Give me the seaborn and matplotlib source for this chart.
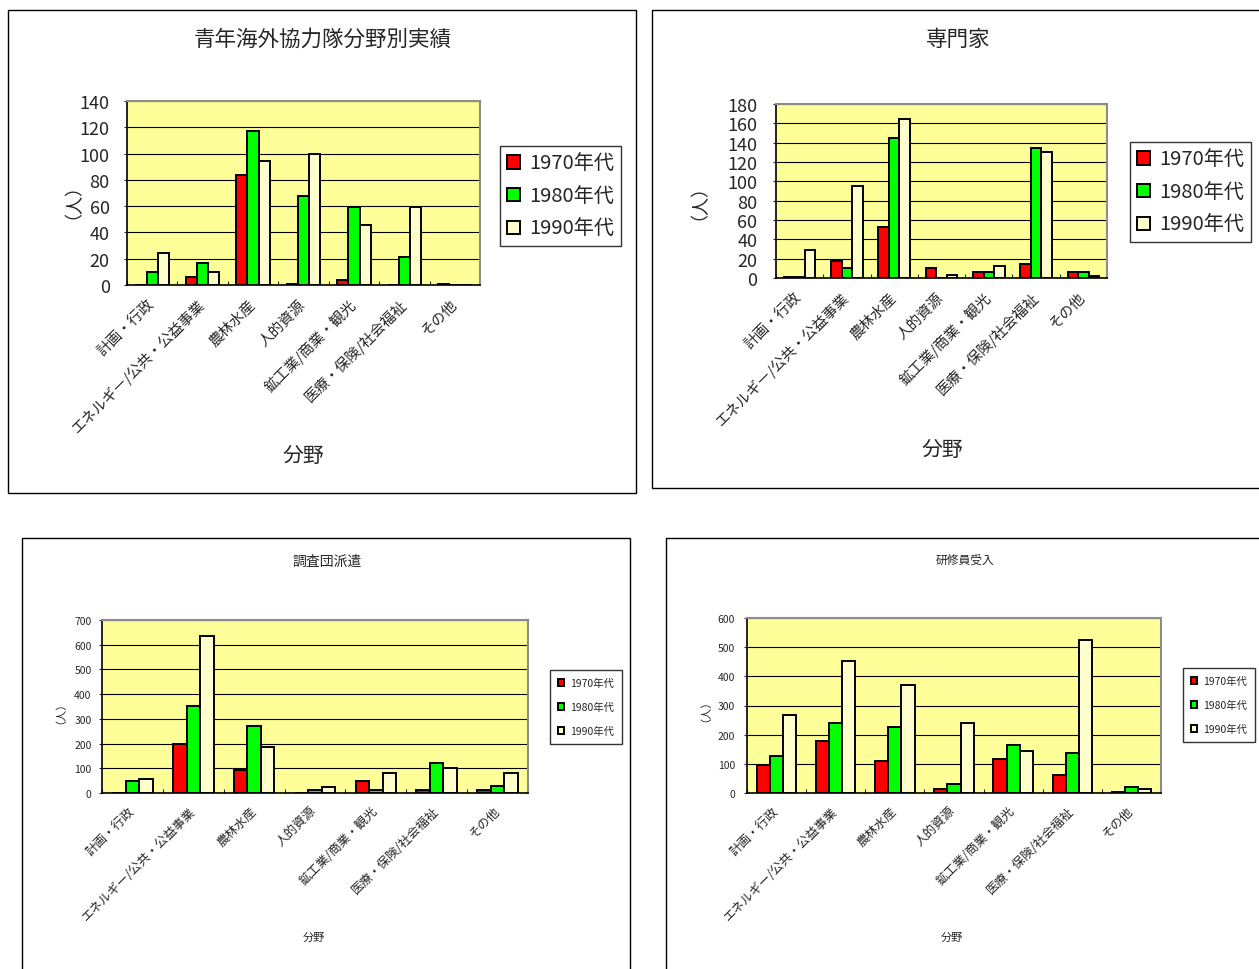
import matplotlib
matplotlib.use("Agg")
import matplotlib.pyplot as plt
from matplotlib.patches import Rectangle, Patch
import numpy as np
import pandas as pd
import seaborn as sns

# ---- data -------------------------------------------------------------
categories = ['計画・行政', 'エネルギー/公共・公益事業', '農林水産', '人的資源',
              '鉱工業/商業・観光', '医療・保険/社会福祉', 'その他']
decades = ['1970年代', '1980年代', '1990年代']

# 青年海外協力隊分野別実績
jocv_1970 = [0, 6, 84, 1, 4, 0, 1]
jocv_1980 = [10, 17, 117, 68, 59, 21, 0]
jocv_1990 = [24, 10, 94, 100, 46, 59, 0]

# 専門家
expert_1970 = [1, 18, 53, 10, 6, 14, 6]
expert_1980 = [1, 10, 145, 0, 6, 134, 6]
expert_1990 = [29, 95, 164, 3, 12, 130, 2]

# 調査団派遣
survey_1970 = [0, 200, 95, 0, 47, 13, 13]
survey_1980 = [47, 353, 273, 13, 13, 120, 30]
survey_1990 = [55, 635, 185, 23, 81, 102, 81]

# 研修員受入
trainee_1970 = [95, 179, 109, 14, 116, 62, 5]
trainee_1980 = [128, 239, 226, 32, 164, 137, 20]
trainee_1990 = [266, 451, 370, 239, 144, 525, 13]

panel_titles = ['青年海外協力隊分野別実績', '専門家', '調査団派遣', '研修員受入']
y_ticks = [np.arange(0, 141, 20), np.arange(0, 181, 20),
           np.arange(0, 701, 100), np.arange(0, 601, 100)]

bar_colors = ['#FF0000', '#00FF00', '#FFFFCC']
plot_bg = '#FFFF99'

# ---- style ------------------------------------------------------------
sns.set_style('ticks')
plt.rcParams['font.family'] = ['Noto Sans CJK JP', 'DejaVu Sans']
plt.rcParams['axes.unicode_minus'] = False

W, H = 1259, 970
fig = plt.figure(figsize=(W / 100, H / 100), dpi=100)
fig.patch.set_facecolor('white')


def fx(x):
    return x / W


def fy(y):
    return 1 - y / H


def long_frame(a, b, c):
    rows = []
    for dec, vals in zip(decades, (a, b, c)):
        for cat, v in zip(categories, vals):
            rows.append({'分野': cat, '年代': dec, '人数': v})
    return pd.DataFrame(rows)


panels = [
    dict(data=long_frame(jocv_1970, jocv_1980, jocv_1990),
         frame=(8, 11, 636, 494), ax=(127, 102, 480, 286),
         title=(323, 40, 15.5), xlab=(303, 456, 15), ylab=(64, 192, 13),
         ytick=(13, 10), xtick=10.5, legend=(500, 147, 626, 242, 14.5)),
    dict(data=long_frame(expert_1970, expert_1980, expert_1990),
         frame=(652, 11, 1270, 489), ax=(776, 105, 1107, 279),
         title=(958, 40, 15.5), xlab=(942, 450, 15), ylab=(690, 193, 13),
         ytick=(13, 11), xtick=10.5, legend=(1130, 143, 1257, 239, 14.5)),
    dict(data=long_frame(survey_1970, survey_1980, survey_1990),
         frame=(22, 539, 630, 985), ax=(102, 621, 528, 794),
         title=(327, 562, 10), xlab=(314, 938, 8), ylab=(55, 707, 8),
         ytick=(7.5, 5), xtick=9, legend=(550, 671, 622, 742, 7.5)),
    dict(data=long_frame(trainee_1970, trainee_1980, trainee_1990),
         frame=(666, 539, 1270, 985), ax=(747, 619, 1161, 794),
         title=(965, 561, 8.5), xlab=(952, 938, 8), ylab=(700, 705, 8),
         ytick=(7.5, 6), xtick=9, legend=(1183, 669, 1255, 743, 7.5)),
]

for i, p in enumerate(panels):
    # chart-area border
    x0, y0, x1, y1 = p['frame']
    fig.add_artist(Rectangle((fx(x0), fy(y1)), fx(x1 - x0), (y1 - y0) / H,
                             transform=fig.transFigure, fill=False,
                             edgecolor='black', linewidth=1.0, zorder=0))

    ax0, ay0, ax1, ay1 = p['ax']
    ax = fig.add_axes([fx(ax0), fy(ay1), fx(ax1 - ax0), (ay1 - ay0) / H])
    ax.set_facecolor(plot_bg)

    sns.barplot(data=p['data'], x='分野', y='人数', hue='年代',
                hue_order=decades, order=categories, palette=bar_colors,
                width=2 / 3, edgecolor='black', linewidth=1.4,
                saturation=1, legend=False, ax=ax, zorder=3)

    ticks = y_ticks[i]
    ax.set_ylim(0, ticks[-1])
    ax.set_xlim(-0.5, len(categories) - 0.5)
    ax.set_yticks(ticks)
    ax.yaxis.grid(True, color='black', linewidth=0.8, zorder=1)
    ax.set_axisbelow(True)

    for s in ('left', 'bottom'):
        ax.spines[s].set_color('black')
        ax.spines[s].set_linewidth(1.2)
    for s in ('top', 'right'):
        ax.spines[s].set_color('#8c8c8c')
        ax.spines[s].set_linewidth(1.5)
        ax.spines[s].set_visible(True)

    yfs, ypad = p['ytick']
    ax.tick_params(axis='y', labelsize=yfs, pad=ypad, length=2.5,
                   width=0.8, direction='out')
    ax.set_xticks(range(len(categories)))
    ax.set_xticklabels(categories, rotation=45, ha='right', va='center',
                       rotation_mode='anchor', fontsize=p['xtick'])
    ax.tick_params(axis='x', length=0, pad=12 if i < 2 else 11)
    ax.set_xticks(np.arange(-0.5, len(categories)), minor=True)
    ax.tick_params(axis='x', which='minor', length=3, direction='in',
                   width=0.8)
    ax.set_xlabel('')
    ax.set_ylabel('')

    tx, ty, tfs = p['title']
    fig.text(fx(tx), fy(ty), panel_titles[i], ha='center', va='center',
             fontsize=tfs)
    lx, ly, lfs = p['xlab']
    fig.text(fx(lx), fy(ly), '分野', ha='center', va='center', fontsize=lfs)
    px, py, pfs = p['ylab']
    fig.text(fx(px), fy(py), '（人）', ha='center', va='center',
             fontsize=pfs, rotation=90)

    # legend box
    gx0, gy0, gx1, gy1, gfs = p['legend']
    handles = [Patch(facecolor=c, edgecolor='black', linewidth=1.4)
               for c in bar_colors]
    big = i < 2
    leg = fig.legend(handles, decades, loc='upper left',
                     bbox_to_anchor=(fx(gx0), fy(gy0)),
                     bbox_transform=fig.transFigure,
                     fontsize=gfs, frameon=True, fancybox=False,
                     handlelength=0.65 if big else 0.6,
                     handleheight=0.65 if big else 0.6,
                     handletextpad=0.45 if big else 0.6,
                     labelspacing=0.58 if big else 1.35,
                     borderpad=0.35 if big else 0.75,
                     borderaxespad=0)
    leg.get_frame().set_edgecolor('black')
    leg.get_frame().set_linewidth(1.0)
    leg.get_frame().set_facecolor('white')
    leg.set_zorder(5)

fig.savefig('out.png', dpi=100, facecolor='white')
